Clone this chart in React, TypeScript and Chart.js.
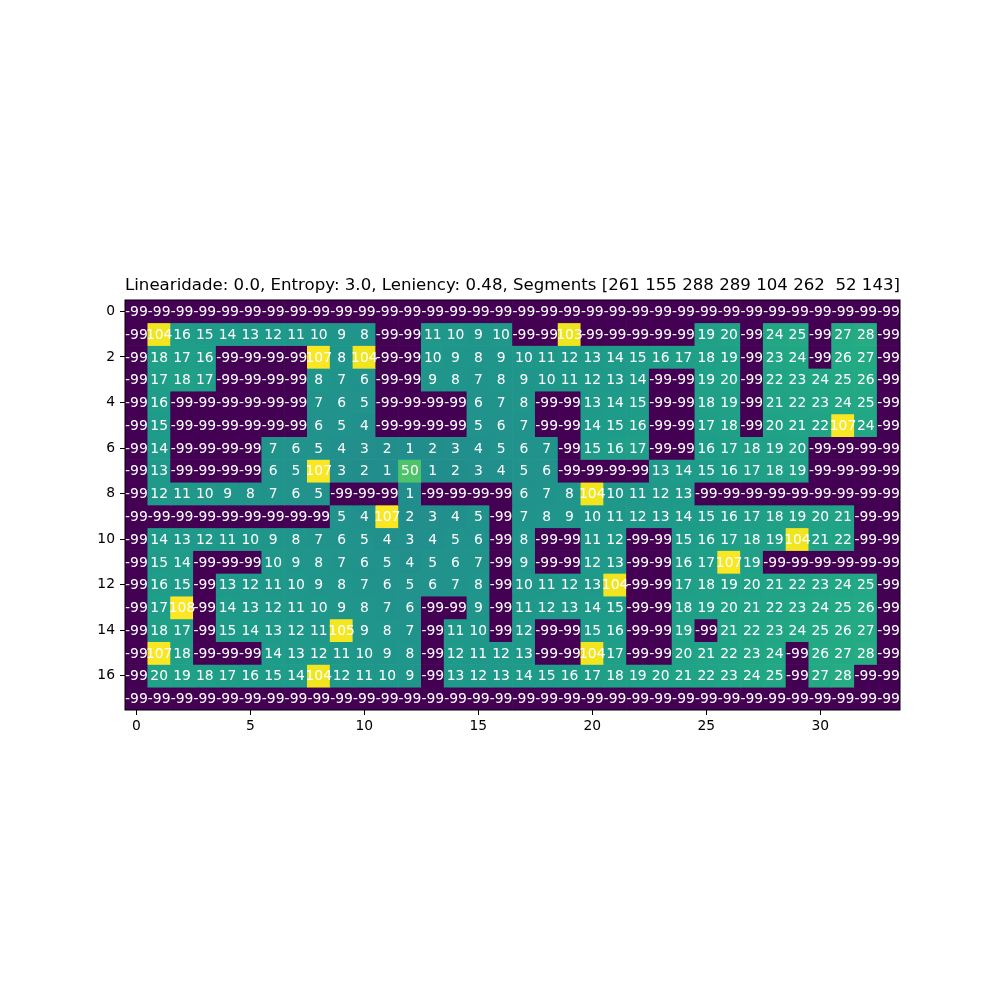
import React, { useEffect, useRef } from 'react';
import { Chart, registerables } from 'chart.js';

Chart.register(...registerables);

const titleText = 'Linearidade: 0.0, Entropy: 3.0, Leniency: 0.48, Segments [261 155 288 289 104 262  52 143]';

const xTicks = [0, 5, 10, 15, 20, 25, 30];
const yTicks = [0, 2, 4, 6, 8, 10, 12, 14, 16];

const row00 = [-99,-99,-99,-99,-99,-99,-99,-99,-99,-99,-99,-99,-99,-99,-99,-99,-99,-99,-99,-99,-99,-99,-99,-99,-99,-99,-99,-99,-99,-99,-99,-99,-99,-99];
const row01 = [-99,104,16,15,14,13,12,11,10,9,8,-99,-99,11,10,9,10,-99,-99,103,-99,-99,-99,-99,-99,19,20,-99,24,25,-99,27,28,-99];
const row02 = [-99,18,17,16,-99,-99,-99,-99,107,8,104,-99,-99,10,9,8,9,10,11,12,13,14,15,16,17,18,19,-99,23,24,-99,26,27,-99];
const row03 = [-99,17,18,17,-99,-99,-99,-99,8,7,6,-99,-99,9,8,7,8,9,10,11,12,13,14,-99,-99,19,20,-99,22,23,24,25,26,-99];
const row04 = [-99,16,-99,-99,-99,-99,-99,-99,7,6,5,-99,-99,-99,-99,6,7,8,-99,-99,13,14,15,-99,-99,18,19,-99,21,22,23,24,25,-99];
const row05 = [-99,15,-99,-99,-99,-99,-99,-99,6,5,4,-99,-99,-99,-99,5,6,7,-99,-99,14,15,16,-99,-99,17,18,-99,20,21,22,107,24,-99];
const row06 = [-99,14,-99,-99,-99,-99,7,6,5,4,3,2,1,2,3,4,5,6,7,-99,15,16,17,-99,-99,16,17,18,19,20,-99,-99,-99,-99];
const row07 = [-99,13,-99,-99,-99,-99,6,5,107,3,2,1,50,1,2,3,4,5,6,-99,-99,-99,-99,13,14,15,16,17,18,19,-99,-99,-99,-99];
const row08 = [-99,12,11,10,9,8,7,6,5,-99,-99,-99,1,-99,-99,-99,-99,6,7,8,104,10,11,12,13,-99,-99,-99,-99,-99,-99,-99,-99,-99];
const row09 = [-99,-99,-99,-99,-99,-99,-99,-99,-99,5,4,107,2,3,4,5,-99,7,8,9,10,11,12,13,14,15,16,17,18,19,20,21,-99,-99];
const row10 = [-99,14,13,12,11,10,9,8,7,6,5,4,3,4,5,6,-99,8,-99,-99,11,12,-99,-99,15,16,17,18,19,104,21,22,-99,-99];
const row11 = [-99,15,14,-99,-99,-99,10,9,8,7,6,5,4,5,6,7,-99,9,-99,-99,12,13,-99,-99,16,17,107,19,-99,-99,-99,-99,-99,-99];
const row12 = [-99,16,15,-99,13,12,11,10,9,8,7,6,5,6,7,8,-99,10,11,12,13,104,-99,-99,17,18,19,20,21,22,23,24,25,-99];
const row13 = [-99,17,108,-99,14,13,12,11,10,9,8,7,6,-99,-99,9,-99,11,12,13,14,15,-99,-99,18,19,20,21,22,23,24,25,26,-99];
const row14 = [-99,18,17,-99,15,14,13,12,11,105,9,8,7,-99,11,10,-99,12,-99,-99,15,16,-99,-99,19,-99,21,22,23,24,25,26,27,-99];
const row15 = [-99,107,18,-99,-99,-99,14,13,12,11,10,9,8,-99,12,11,12,13,-99,-99,104,17,-99,-99,20,21,22,23,24,-99,26,27,28,-99];
const row16 = [-99,20,19,18,17,16,15,14,104,12,11,10,9,-99,13,12,13,14,15,16,17,18,19,20,21,22,23,24,25,-99,27,28,-99,-99];
const row17 = [-99,-99,-99,-99,-99,-99,-99,-99,-99,-99,-99,-99,-99,-99,-99,-99,-99,-99,-99,-99,-99,-99,-99,-99,-99,-99,-99,-99,-99,-99,-99,-99,-99,-99];

const rows = [row00, row01, row02, row03, row04, row05, row06, row07, row08, row09, row10, row11, row12, row13, row14, row15, row16, row17];

const VMIN = -99;
const VMAX = 108;

const viridisStops = [
  '#440154', '#471365', '#482475', '#463480', '#414487', '#3b528b', '#355f8d',
  '#2f6c8e', '#2a788e', '#25848e', '#21918c', '#1e9c89', '#22a884', '#2fb47c',
  '#44bf70', '#5ec962', '#7ad151', '#9bd93c', '#bddf26', '#dfe318', '#fde725',
];

function hexToRgb(h: string) {
  return [parseInt(h.slice(1, 3), 16), parseInt(h.slice(3, 5), 16), parseInt(h.slice(5, 7), 16)];
}

function viridis(v: number) {
  let t = (v - VMIN) / (VMAX - VMIN);
  t = Math.max(0, Math.min(1, t));
  const pos = t * (viridisStops.length - 1);
  const i = Math.min(Math.floor(pos), viridisStops.length - 2);
  const f = pos - i;
  const a = hexToRgb(viridisStops[i]);
  const b = hexToRgb(viridisStops[i + 1]);
  const c = a.map((x, k) => Math.round(x + (b[k] - x) * f));
  return `rgb(${c[0]},${c[1]},${c[2]})`;
}

const FONT = '"DejaVu Sans"';

const cellTextPlugin = {
  id: 'cellText',
  afterDatasetsDraw(chart: any) {
    const ctx = chart.ctx;
    ctx.save();
    ctx.font = `13.89px ${FONT}`;
    ctx.fillStyle = '#ffffff';
    ctx.textAlign = 'center';
    ctx.textBaseline = 'middle';
    chart.data.datasets.forEach((ds: any, d: number) => {
      const meta = chart.getDatasetMeta(d);
      meta.data.forEach((el: any, i: number) => {
        const raw = ds.data[i];
        const cy = (el.y + el.base) / 2;
        ctx.fillText(String(raw.v), el.x, cy + 1);
      });
    });
    const a = chart.chartArea;
    ctx.strokeStyle = '#000';
    ctx.lineWidth = 1;
    ctx.strokeRect(a.left, a.top, a.right - a.left, a.bottom - a.top);
    ctx.restore();
  },
};

export default function App() {
  const ref = useRef<HTMLCanvasElement | null>(null);

  useEffect(() => {
    if (!ref.current) return;
    Chart.defaults.font.family = FONT;
    const datasets = rows.map((row, r) => ({
      label: `row ${r}`,
      data: row.map((v, c) => ({ x: c, y: [r - 0.5, r + 0.5], v })),
      backgroundColor: row.map((v) => viridis(v)),
      borderWidth: 0,
      barPercentage: 1,
      categoryPercentage: 1,
      grouped: false,
    }));

    const chart = new Chart(ref.current, {
      type: 'bar',
      data: { datasets: datasets as any },
      options: {
        responsive: false,
        animation: false,
        devicePixelRatio: 1,
        layout: { padding: { left: 0, right: 100, top: 0, bottom: 0 } },
        plugins: {
          legend: { display: false },
          tooltip: { enabled: false },
          title: {
            display: true,
            text: titleText,
            fullSize: false,
            color: '#000',
            font: { size: 16.67, weight: 'normal', family: FONT },
            padding: { top: 276, bottom: 4 },
          },
        },
        scales: {
          x: {
            type: 'linear',
            min: -0.5,
            max: 33.5,
            offset: false,
            afterBuildTicks: (s: any) => {
              s.ticks = xTicks.map((v) => ({ value: v }));
            },
            afterFit: (s: any) => {
              s.height = 290;
            },
            grid: {
              display: true,
              drawOnChartArea: false,
              drawTicks: true,
              tickLength: 5,
              tickColor: '#000',
              tickWidth: 1,
              offset: false,
            },
            border: { display: false },
            ticks: {
              color: '#000',
              font: { size: 13.89, family: FONT },
              padding: 3,
              maxRotation: 0,
              autoSkip: false,
              callback: (v: any) => String(v),
            },
          },
          y: {
            type: 'linear',
            min: -0.5,
            max: 17.5,
            reverse: true,
            afterBuildTicks: (s: any) => {
              s.ticks = yTicks.map((v) => ({ value: v }));
            },
            afterFit: (s: any) => {
              s.width = 125;
            },
            grid: {
              display: true,
              drawOnChartArea: false,
              drawTicks: true,
              tickLength: 5,
              tickColor: '#000',
              tickWidth: 1,
            },
            border: { display: false },
            ticks: {
              color: '#000',
              font: { size: 13.89, family: FONT },
              padding: 5,
              autoSkip: false,
              callback: (v: any) => String(v),
            },
          },
        },
      } as any,
      plugins: [cellTextPlugin],
    });
    return () => chart.destroy();
  }, []);

  return (
    <div style={{ position: 'absolute', left: 0, top: 0, width: 1000, height: 1000, background: '#fff' }}>
      <canvas ref={ref} width={1000} height={1000} style={{ width: 1000, height: 1000, display: 'block' }} />
    </div>
  );
}
